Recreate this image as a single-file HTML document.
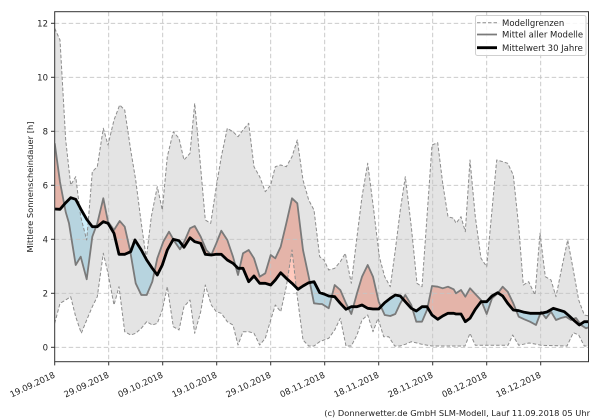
<!DOCTYPE html>
<html><head><meta charset="utf-8"><style>
html,body{margin:0;padding:0;background:#fff;}
svg{display:block;}
text{font-family:"DejaVu Sans","Liberation Sans",sans-serif;fill:#222;}
</style></head><body>
<svg width="600" height="420" viewBox="0 0 600 420" xmlns="http://www.w3.org/2000/svg">
<defs>
<clipPath id="ax"><rect x="54.7" y="11.7" width="533.8" height="350"/></clipPath>
<clipPath id="above"><polygon points="54.7,0 54.7,209 60,209.3 65.7,202.7 70.7,197.7 75.7,199.3 81.3,210 86.7,219.3 92.3,226.7 97.3,226.7 103.3,221.7 108,223.3 114,233.3 119,254.3 124.7,254.3 130.7,251.7 135,240 141.3,250 146.7,260 152.3,268.3 157.3,275 162.3,265 167.3,250 173.3,239.3 179,240.7 184,247.3 190,237.7 194.7,241.7 200.7,243.3 205.3,254.3 211.3,255 216.3,254.3 221.3,254.3 227.3,260 233,263.3 238,268.3 243,268.3 248.7,281.7 254,276 259.7,283.3 265.3,283.3 270.7,285 275.3,280 280.7,272.7 286.3,278.3 292,283.3 298,289.3 303,286 308.7,282.7 314,281.7 319.7,292.7 324,294 328.7,296 334.7,296.7 340.3,303.3 346,309.3 351.3,306.7 357,306.7 362,305 367.7,308.3 373,309 378.7,309 384.7,302.7 390.3,298.3 395.3,295 400.3,296 405.3,301.7 411.3,308.3 416.3,311 422,306.7 427,306.7 432,315 437.7,319.3 442.7,316 448,313.3 453.7,313.3 456,314 461,314 465.3,321.7 470,318.3 475.3,309.3 481,301.7 486.7,301.7 492,296 497.7,292.7 502.7,296 507.7,303.3 513.3,310 518.7,310.7 524.3,312.3 530,313.3 536,313.3 541,313.3 547,312 553.3,308.3 558.7,310 564.3,311.7 569.3,316 574.3,320.7 579.3,325 584.3,321.7 589.3,321.7 589.3,0"/></clipPath>
<clipPath id="below"><polygon points="54.7,420 54.7,209 60,209.3 65.7,202.7 70.7,197.7 75.7,199.3 81.3,210 86.7,219.3 92.3,226.7 97.3,226.7 103.3,221.7 108,223.3 114,233.3 119,254.3 124.7,254.3 130.7,251.7 135,240 141.3,250 146.7,260 152.3,268.3 157.3,275 162.3,265 167.3,250 173.3,239.3 179,240.7 184,247.3 190,237.7 194.7,241.7 200.7,243.3 205.3,254.3 211.3,255 216.3,254.3 221.3,254.3 227.3,260 233,263.3 238,268.3 243,268.3 248.7,281.7 254,276 259.7,283.3 265.3,283.3 270.7,285 275.3,280 280.7,272.7 286.3,278.3 292,283.3 298,289.3 303,286 308.7,282.7 314,281.7 319.7,292.7 324,294 328.7,296 334.7,296.7 340.3,303.3 346,309.3 351.3,306.7 357,306.7 362,305 367.7,308.3 373,309 378.7,309 384.7,302.7 390.3,298.3 395.3,295 400.3,296 405.3,301.7 411.3,308.3 416.3,311 422,306.7 427,306.7 432,315 437.7,319.3 442.7,316 448,313.3 453.7,313.3 456,314 461,314 465.3,321.7 470,318.3 475.3,309.3 481,301.7 486.7,301.7 492,296 497.7,292.7 502.7,296 507.7,303.3 513.3,310 518.7,310.7 524.3,312.3 530,313.3 536,313.3 541,313.3 547,312 553.3,308.3 558.7,310 564.3,311.7 569.3,316 574.3,320.7 579.3,325 584.3,321.7 589.3,321.7 589.3,420"/></clipPath>
</defs>

<rect width="600" height="420" fill="#fff"/>

<g clip-path="url(#ax)">
  <!-- diff polygon: model forward, clim reversed -->
  <g id="diff">
  <polygon clip-path="url(#above)" fill="#ffcabe" points="54.7,143.3 60,182 65.7,212 69,223.3 75.7,265 80.7,256.7 86.7,279.3 92.3,236.7 97.3,223.3 103.3,198.3 108,221.7 114,230 119.7,221 124.7,226.7 130,250 135.7,283.3 141.3,295 146.7,295 152.3,281.7 157.3,258.3 163.3,241.7 169,231.7 174.7,241.7 180,249.3 185,240 190,228.3 194.7,226 200.7,236.7 206.3,250 211.3,255 216.3,243.3 221.3,230.7 227.3,240 233,256.7 238,275 243,253.3 248.7,250 254,258.3 259.7,276.7 265.3,273.3 270.7,255 275.3,258.3 280.7,246.7 286.3,223.3 292,198.3 297.3,203.3 303,250 308.7,276.7 314,303.3 319.7,304 322,304 328.7,308.3 334.7,285 340.3,290 346,303.3 351.3,314 357,293.3 362,276.7 367.7,265 373,276.7 378.7,301.7 384.7,315 390.3,316 395.3,314 400.3,303.3 405.3,295 411.3,305 416.3,321.7 422,321.7 427,310 432,286 437.7,286.7 442.7,288.3 448,286.7 453.7,289.3 456,293.3 461,290 465.3,296.7 470,288.3 475.3,294 481,300 486.7,314 492,298.3 497.7,293.3 502.7,286.7 507.7,291.7 513.3,303.3 518.7,316.7 524.3,319.3 530,321.7 536,325 541,311.7 546,318.3 551,311.7 556,320 561,318 566,316.7 571,320 576,318 581,325 586,328.3 589.3,327 589.3,321.7 584.3,321.7 579.3,325 574.3,320.7 569.3,316 564.3,311.7 558.7,310 553.3,308.3 547,312 541,313.3 536,313.3 530,313.3 524.3,312.3 518.7,310.7 513.3,310 507.7,303.3 502.7,296 497.7,292.7 492,296 486.7,301.7 481,301.7 475.3,309.3 470,318.3 465.3,321.7 461,314 456,314 453.7,313.3 448,313.3 442.7,316 437.7,319.3 432,315 427,306.7 422,306.7 416.3,311 411.3,308.3 405.3,301.7 400.3,296 395.3,295 390.3,298.3 384.7,302.7 378.7,309 373,309 367.7,308.3 362,305 357,306.7 351.3,306.7 346,309.3 340.3,303.3 334.7,296.7 328.7,296 324,294 319.7,292.7 314,281.7 308.7,282.7 303,286 298,289.3 292,283.3 286.3,278.3 280.7,272.7 275.3,280 270.7,285 265.3,283.3 259.7,283.3 254,276 248.7,281.7 243,268.3 238,268.3 233,263.3 227.3,260 221.3,254.3 216.3,254.3 211.3,255 205.3,254.3 200.7,243.3 194.7,241.7 190,237.7 184,247.3 179,240.7 173.3,239.3 167.3,250 162.3,265 157.3,275 152.3,268.3 146.7,260 141.3,250 135,240 130.7,251.7 124.7,254.3 119,254.3 114,233.3 108,223.3 103.3,221.7 97.3,226.7 92.3,226.7 86.7,219.3 81.3,210 75.7,199.3 70.7,197.7 65.7,202.7 60,209.3 54.7,209"/>
  </g>
  <polygon clip-path="url(#below)" fill="#cdeefa" points="54.7,143.3 60,182 65.7,212 69,223.3 75.7,265 80.7,256.7 86.7,279.3 92.3,236.7 97.3,223.3 103.3,198.3 108,221.7 114,230 119.7,221 124.7,226.7 130,250 135.7,283.3 141.3,295 146.7,295 152.3,281.7 157.3,258.3 163.3,241.7 169,231.7 174.7,241.7 180,249.3 185,240 190,228.3 194.7,226 200.7,236.7 206.3,250 211.3,255 216.3,243.3 221.3,230.7 227.3,240 233,256.7 238,275 243,253.3 248.7,250 254,258.3 259.7,276.7 265.3,273.3 270.7,255 275.3,258.3 280.7,246.7 286.3,223.3 292,198.3 297.3,203.3 303,250 308.7,276.7 314,303.3 319.7,304 322,304 328.7,308.3 334.7,285 340.3,290 346,303.3 351.3,314 357,293.3 362,276.7 367.7,265 373,276.7 378.7,301.7 384.7,315 390.3,316 395.3,314 400.3,303.3 405.3,295 411.3,305 416.3,321.7 422,321.7 427,310 432,286 437.7,286.7 442.7,288.3 448,286.7 453.7,289.3 456,293.3 461,290 465.3,296.7 470,288.3 475.3,294 481,300 486.7,314 492,298.3 497.7,293.3 502.7,286.7 507.7,291.7 513.3,303.3 518.7,316.7 524.3,319.3 530,321.7 536,325 541,311.7 546,318.3 551,311.7 556,320 561,318 566,316.7 571,320 576,318 581,325 586,328.3 589.3,327 589.3,321.7 584.3,321.7 579.3,325 574.3,320.7 569.3,316 564.3,311.7 558.7,310 553.3,308.3 547,312 541,313.3 536,313.3 530,313.3 524.3,312.3 518.7,310.7 513.3,310 507.7,303.3 502.7,296 497.7,292.7 492,296 486.7,301.7 481,301.7 475.3,309.3 470,318.3 465.3,321.7 461,314 456,314 453.7,313.3 448,313.3 442.7,316 437.7,319.3 432,315 427,306.7 422,306.7 416.3,311 411.3,308.3 405.3,301.7 400.3,296 395.3,295 390.3,298.3 384.7,302.7 378.7,309 373,309 367.7,308.3 362,305 357,306.7 351.3,306.7 346,309.3 340.3,303.3 334.7,296.7 328.7,296 324,294 319.7,292.7 314,281.7 308.7,282.7 303,286 298,289.3 292,283.3 286.3,278.3 280.7,272.7 275.3,280 270.7,285 265.3,283.3 259.7,283.3 254,276 248.7,281.7 243,268.3 238,268.3 233,263.3 227.3,260 221.3,254.3 216.3,254.3 211.3,255 205.3,254.3 200.7,243.3 194.7,241.7 190,237.7 184,247.3 179,240.7 173.3,239.3 167.3,250 162.3,265 157.3,275 152.3,268.3 146.7,260 141.3,250 135,240 130.7,251.7 124.7,254.3 119,254.3 114,233.3 108,223.3 103.3,221.7 97.3,226.7 92.3,226.7 86.7,219.3 81.3,210 75.7,199.3 70.7,197.7 65.7,202.7 60,209.3 54.7,209"/>

  <!-- model band -->
  <polygon fill="#000" fill-opacity="0.105" points="54.7,28.3 60,40 65.7,140 70.7,185 75.7,176.7 80.7,216.7 86.7,240 92.3,171.7 97.3,166.7 103.3,128.3 108,145 114,120 119.7,105 124.7,110 130.7,150 135.7,180 141.3,223.3 146.3,258.3 151.3,216.7 157.3,186.7 162.3,210 167.3,156.7 173.3,131.7 179,138.3 184,160 190,153.3 194.7,103.3 199.7,156.7 205.3,220 210.7,223.3 216.3,186.7 221.3,156.7 227.3,128.3 233,131.7 238,136.7 243,130 248.7,123.3 254,166.7 259.7,176.7 265.3,191.7 270.7,185 275.3,166.7 280.7,165 286.3,166.7 292,156.7 297.3,140 303,180 308.7,200 314,210 319.7,256.7 324,260 328.7,270 334.7,268.3 340.3,261.7 345.3,253.3 351.3,283.3 357,236.7 362,196.7 367.7,163.3 373.7,210 379.3,256.7 384.7,276.7 390.3,286.7 395.3,250 400.3,210 405.3,176.7 411.3,226.7 417,283.3 422,286.7 427,216.7 432,145 437.7,142.7 442.7,183.3 448,216.7 453.7,218.3 456,223.3 461,216.7 465.3,231.7 470,160 475.3,216.7 481,258.3 486.7,266.7 492,210 496.7,160 502.7,161.7 507.7,163.3 513.3,175 518.7,226.7 523.3,285 528.7,281.7 535,295 540,233.3 545.3,276.7 551,280 556,296.7 562,266.7 567.7,240 573.3,270 578.7,300 584.3,315 589.3,316 589.3,346 584.3,346 578.7,335 573.3,332.7 567,346 541,345.3 535,344 529,343 518.7,345.3 512.7,335 508,345.3 475.3,345.3 470,333.3 465,346 432,346 422,344.3 417,343 411.3,341.7 405.3,344.3 400,346 394.7,346 388.7,336.7 383.7,336.7 378,318.3 373,331.7 367.7,315 362,320 357,335 351.3,346 346,346 340.3,318.3 334.7,330 328.7,338.3 324,340 319.7,341.7 314,346 308.7,346 303,340 297.3,296.7 292,250 286.3,286.7 280.7,311.7 275.3,305 270.7,320 265.3,338.3 259.7,345 254,333.3 248.7,331.7 243,331.7 238,345 233,325 227.3,321.7 221.3,313.3 216.3,311.7 211.3,305 205.3,285 200.7,311.7 194.7,333.3 190,300 184,306.7 179,330 173.3,326.7 167.3,286.7 162.3,310 157.3,323.3 152.3,325 146.7,321.7 141.3,328.3 135.7,333.3 130.7,335 124.7,331.7 119,286.7 114,305 108,273.3 103.3,253.3 97.3,296.7 92.3,306.7 86.7,320 81.3,333.3 75.7,316.7 70.7,296.7 65.7,300 60,303.3 54.7,323.3"/>

  <!-- grid -->
  <g stroke="#c4c4c4" stroke-width="0.9" stroke-dasharray="4.5,2.5" fill="none">
    <line x1="54.7" y1="23.3" x2="588.5" y2="23.3"/>
    <line x1="54.7" y1="77.3" x2="588.5" y2="77.3"/>
    <line x1="54.7" y1="131.3" x2="588.5" y2="131.3"/>
    <line x1="54.7" y1="185.3" x2="588.5" y2="185.3"/>
    <line x1="54.7" y1="239.3" x2="588.5" y2="239.3"/>
    <line x1="54.7" y1="293.3" x2="588.5" y2="293.3"/>
    <line x1="54.7" y1="347.3" x2="588.5" y2="347.3"/>
    <line x1="108.7" y1="11.7" x2="108.7" y2="361.7"/>
    <line x1="162.7" y1="11.7" x2="162.7" y2="361.7"/>
    <line x1="216.7" y1="11.7" x2="216.7" y2="361.7"/>
    <line x1="270.7" y1="11.7" x2="270.7" y2="361.7"/>
    <line x1="324.7" y1="11.7" x2="324.7" y2="361.7"/>
    <line x1="378.7" y1="11.7" x2="378.7" y2="361.7"/>
    <line x1="432.7" y1="11.7" x2="432.7" y2="361.7"/>
    <line x1="486.7" y1="11.7" x2="486.7" y2="361.7"/>
    <line x1="540.7" y1="11.7" x2="540.7" y2="361.7"/>
  </g>

  <!-- bounds dashed -->
  <g fill="none" stroke="#8c8c8c" stroke-width="1" stroke-dasharray="3.5,2" stroke-linejoin="round">
    <polyline points="54.7,28.3 60,40 65.7,140 70.7,185 75.7,176.7 80.7,216.7 86.7,240 92.3,171.7 97.3,166.7 103.3,128.3 108,145 114,120 119.7,105 124.7,110 130.7,150 135.7,180 141.3,223.3 146.3,258.3 151.3,216.7 157.3,186.7 162.3,210 167.3,156.7 173.3,131.7 179,138.3 184,160 190,153.3 194.7,103.3 199.7,156.7 205.3,220 210.7,223.3 216.3,186.7 221.3,156.7 227.3,128.3 233,131.7 238,136.7 243,130 248.7,123.3 254,166.7 259.7,176.7 265.3,191.7 270.7,185 275.3,166.7 280.7,165 286.3,166.7 292,156.7 297.3,140 303,180 308.7,200 314,210 319.7,256.7 324,260 328.7,270 334.7,268.3 340.3,261.7 345.3,253.3 351.3,283.3 357,236.7 362,196.7 367.7,163.3 373.7,210 379.3,256.7 384.7,276.7 390.3,286.7 395.3,250 400.3,210 405.3,176.7 411.3,226.7 417,283.3 422,286.7 427,216.7 432,145 437.7,142.7 442.7,183.3 448,216.7 453.7,218.3 456,223.3 461,216.7 465.3,231.7 470,160 475.3,216.7 481,258.3 486.7,266.7 492,210 496.7,160 502.7,161.7 507.7,163.3 513.3,175 518.7,226.7 523.3,285 528.7,281.7 535,295 540,233.3 545.3,276.7 551,280 556,296.7 562,266.7 567.7,240 573.3,270 578.7,300 584.3,315 589.3,316"/>
    <polyline points="54.7,323.3 60,303.3 65.7,300 70.7,296.7 75.7,316.7 81.3,333.3 86.7,320 92.3,306.7 97.3,296.7 103.3,253.3 108,273.3 114,305 119,286.7 124.7,331.7 130.7,335 135.7,333.3 141.3,328.3 146.7,321.7 152.3,325 157.3,323.3 162.3,310 167.3,286.7 173.3,326.7 179,330 184,306.7 190,300 194.7,333.3 200.7,311.7 205.3,285 211.3,305 216.3,311.7 221.3,313.3 227.3,321.7 233,325 238,345 243,331.7 248.7,331.7 254,333.3 259.7,345 265.3,338.3 270.7,320 275.3,305 280.7,311.7 286.3,286.7 292,250 297.3,296.7 303,340 308.7,346 314,346 319.7,341.7 324,340 328.7,338.3 334.7,330 340.3,318.3 346,346 351.3,346 357,335 362,320 367.7,315 373,331.7 378,318.3 383.7,336.7 388.7,336.7 394.7,346 400,346 405.3,344.3 411.3,341.7 417,343 422,344.3 432,346 465,346 470,333.3 475.3,345.3 508,345.3 512.7,335 518.7,345.3 529,343 535,344 541,345.3 567,346 573.3,332.7 578.7,335 584.3,346 589.3,346"/>
  </g>

  <!-- model mean -->
  <polyline fill="none" stroke="#7a7a7a" stroke-width="1.8" stroke-linejoin="round" points="54.7,143.3 60,182 65.7,212 69,223.3 75.7,265 80.7,256.7 86.7,279.3 92.3,236.7 97.3,223.3 103.3,198.3 108,221.7 114,230 119.7,221 124.7,226.7 130,250 135.7,283.3 141.3,295 146.7,295 152.3,281.7 157.3,258.3 163.3,241.7 169,231.7 174.7,241.7 180,249.3 185,240 190,228.3 194.7,226 200.7,236.7 206.3,250 211.3,255 216.3,243.3 221.3,230.7 227.3,240 233,256.7 238,275 243,253.3 248.7,250 254,258.3 259.7,276.7 265.3,273.3 270.7,255 275.3,258.3 280.7,246.7 286.3,223.3 292,198.3 297.3,203.3 303,250 308.7,276.7 314,303.3 319.7,304 322,304 328.7,308.3 334.7,285 340.3,290 346,303.3 351.3,314 357,293.3 362,276.7 367.7,265 373,276.7 378.7,301.7 384.7,315 390.3,316 395.3,314 400.3,303.3 405.3,295 411.3,305 416.3,321.7 422,321.7 427,310 432,286 437.7,286.7 442.7,288.3 448,286.7 453.7,289.3 456,293.3 461,290 465.3,296.7 470,288.3 475.3,294 481,300 486.7,314 492,298.3 497.7,293.3 502.7,286.7 507.7,291.7 513.3,303.3 518.7,316.7 524.3,319.3 530,321.7 536,325 541,311.7 546,318.3 551,311.7 556,320 561,318 566,316.7 571,320 576,318 581,325 586,328.3 589.3,327"/>

  <!-- 30-year mean -->
  <polyline fill="none" stroke="#000" stroke-width="2.8" stroke-linejoin="round" points="54.7,209 60,209.3 65.7,202.7 70.7,197.7 75.7,199.3 81.3,210 86.7,219.3 92.3,226.7 97.3,226.7 103.3,221.7 108,223.3 114,233.3 119,254.3 124.7,254.3 130.7,251.7 135,240 141.3,250 146.7,260 152.3,268.3 157.3,275 162.3,265 167.3,250 173.3,239.3 179,240.7 184,247.3 190,237.7 194.7,241.7 200.7,243.3 205.3,254.3 211.3,255 216.3,254.3 221.3,254.3 227.3,260 233,263.3 238,268.3 243,268.3 248.7,281.7 254,276 259.7,283.3 265.3,283.3 270.7,285 275.3,280 280.7,272.7 286.3,278.3 292,283.3 298,289.3 303,286 308.7,282.7 314,281.7 319.7,292.7 324,294 328.7,296 334.7,296.7 340.3,303.3 346,309.3 351.3,306.7 357,306.7 362,305 367.7,308.3 373,309 378.7,309 384.7,302.7 390.3,298.3 395.3,295 400.3,296 405.3,301.7 411.3,308.3 416.3,311 422,306.7 427,306.7 432,315 437.7,319.3 442.7,316 448,313.3 453.7,313.3 456,314 461,314 465.3,321.7 470,318.3 475.3,309.3 481,301.7 486.7,301.7 492,296 497.7,292.7 502.7,296 507.7,303.3 513.3,310 518.7,310.7 524.3,312.3 530,313.3 536,313.3 541,313.3 547,312 553.3,308.3 558.7,310 564.3,311.7 569.3,316 574.3,320.7 579.3,325 584.3,321.7 589.3,321.7"/>
</g>

<!-- spines -->
<rect x="54.7" y="11.7" width="533.8" height="350" fill="none" stroke="#333" stroke-width="1"/>

<!-- y ticks -->
<g stroke="#333" stroke-width="1">
  <line x1="51" y1="23.3" x2="54.7" y2="23.3"/>
  <line x1="51" y1="77.3" x2="54.7" y2="77.3"/>
  <line x1="51" y1="131.3" x2="54.7" y2="131.3"/>
  <line x1="51" y1="185.3" x2="54.7" y2="185.3"/>
  <line x1="51" y1="239.3" x2="54.7" y2="239.3"/>
  <line x1="51" y1="293.3" x2="54.7" y2="293.3"/>
  <line x1="51" y1="347.3" x2="54.7" y2="347.3"/>
  <line x1="54.7" y1="361.7" x2="54.7" y2="365.4"/>
  <line x1="108.7" y1="361.7" x2="108.7" y2="365.4"/>
  <line x1="162.7" y1="361.7" x2="162.7" y2="365.4"/>
  <line x1="216.7" y1="361.7" x2="216.7" y2="365.4"/>
  <line x1="270.7" y1="361.7" x2="270.7" y2="365.4"/>
  <line x1="324.7" y1="361.7" x2="324.7" y2="365.4"/>
  <line x1="378.7" y1="361.7" x2="378.7" y2="365.4"/>
  <line x1="432.7" y1="361.7" x2="432.7" y2="365.4"/>
  <line x1="486.7" y1="361.7" x2="486.7" y2="365.4"/>
  <line x1="540.7" y1="361.7" x2="540.7" y2="365.4"/>
</g>
<g font-size="8.5" text-anchor="end">
  <text x="48" y="26.3">12</text>
  <text x="48" y="80.3">10</text>
  <text x="48" y="134.3">8</text>
  <text x="48" y="188.3">6</text>
  <text x="48" y="242.3">4</text>
  <text x="48" y="296.3">2</text>
  <text x="48" y="350.3">0</text>
</g>

<!-- x tick labels -->
<g font-size="8.5" text-anchor="end">
  <text x="55.7" y="377" transform="rotate(-25 55.7 377)">19.09.2018</text>
  <text x="109.7" y="377" transform="rotate(-25 109.7 377)">29.09.2018</text>
  <text x="163.7" y="377" transform="rotate(-25 163.7 377)">09.10.2018</text>
  <text x="217.7" y="377" transform="rotate(-25 217.7 377)">19.10.2018</text>
  <text x="271.7" y="377" transform="rotate(-25 271.7 377)">29.10.2018</text>
  <text x="325.7" y="377" transform="rotate(-25 325.7 377)">08.11.2018</text>
  <text x="379.7" y="377" transform="rotate(-25 379.7 377)">18.11.2018</text>
  <text x="433.7" y="377" transform="rotate(-25 433.7 377)">28.11.2018</text>
  <text x="487.7" y="377" transform="rotate(-25 487.7 377)">08.12.2018</text>
  <text x="541.7" y="377" transform="rotate(-25 541.7 377)">18.12.2018</text>
</g>

<!-- y label -->
<text font-size="8.3" text-anchor="middle" x="33" y="187" transform="rotate(-90 33 187)">Mittlere Sonnenscheindauer [h]</text>

<!-- legend -->
<rect x="475.5" y="15.5" width="110.5" height="40" rx="2" fill="#fff" fill-opacity="0.85" stroke="#cfcfcf" stroke-width="1"/>
<line x1="477" y1="22.7" x2="497" y2="22.7" stroke="#8c8c8c" stroke-width="1" stroke-dasharray="3.5,2"/>
<line x1="477" y1="34.5" x2="497" y2="34.5" stroke="#7a7a7a" stroke-width="1.8"/>
<line x1="477" y1="47.7" x2="497" y2="47.7" stroke="#000" stroke-width="2.8"/>
<g font-size="8.5">
  <text x="502" y="25.8">Modellgrenzen</text>
  <text x="502" y="37.6">Mittel aller Modelle</text>
  <text x="502" y="50.8">Mittelwert 30 Jahre</text>
</g>

<!-- footer -->
<text font-size="8.3" x="590" y="416" text-anchor="end">(c) Donnerwetter.de GmbH SLM-Modell, Lauf 11.09.2018 05 Uhr</text>
</svg>
</body></html>
